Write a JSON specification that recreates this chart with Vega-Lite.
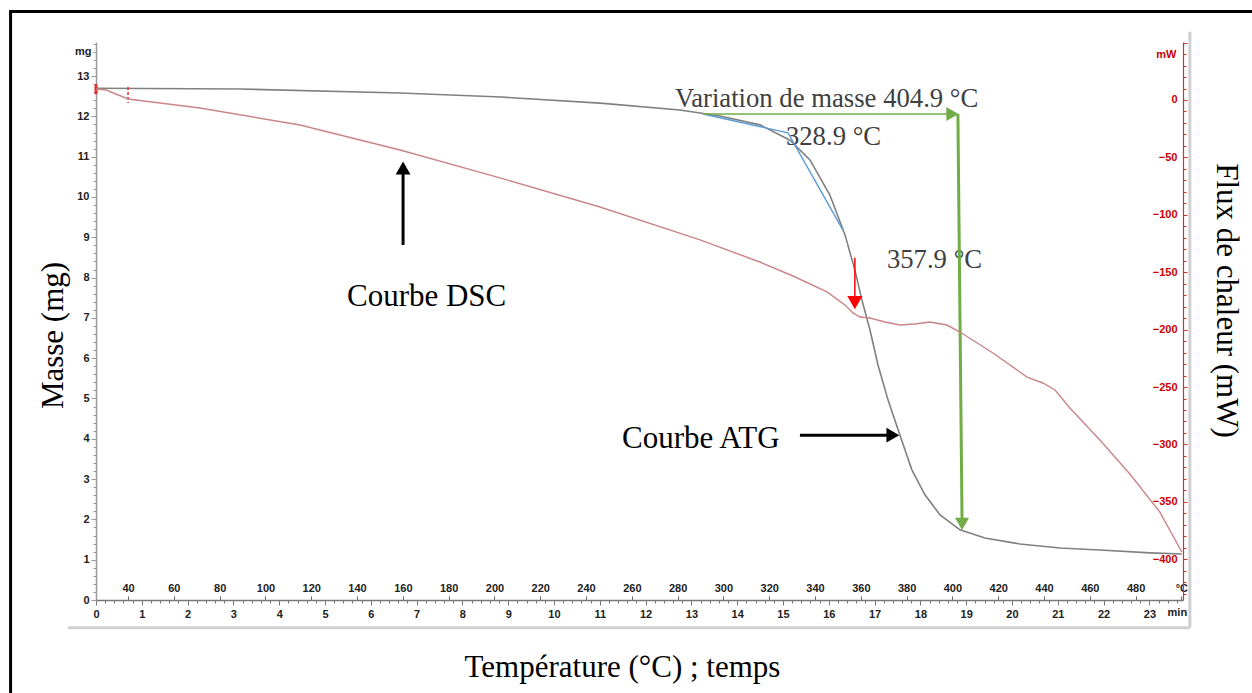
{
  "$schema": "https://vega.github.io/schema/vega-lite/v6.json",
  "width": 1087,
  "height": 558,
  "autosize": {"type": "none"},
  "padding": {"left": 96, "top": 42, "right": 69, "bottom": 93},
  "background": "#ffffff",
  "config": {
    "view": {"stroke": null},
    "axis": {
      "grid": false,
      "labelFont": "Liberation Sans Narrow, Liberation Sans, Arial",
      "labelFontWeight": "bold",
      "labelFontSize": 11,
      "labelColor": "#222222",
      "titleFont": "Liberation Serif",
      "titleFontWeight": "normal",
      "titleFontSize": 31,
      "titleColor": "#000000"
    }
  },
  "datasets": {
    "atg": [
      {"T": 26, "mg": 12.70}, {"T": 88.9, "mg": 12.68}, {"T": 158.8, "mg": 12.58}, {"T": 202.9, "mg": 12.48},
      {"T": 246.1, "mg": 12.33}, {"T": 281.0, "mg": 12.16}, {"T": 298.5, "mg": 12.01}, {"T": 316.0, "mg": 11.79},
      {"T": 329.1, "mg": 11.41}, {"T": 337.8, "mg": 10.92}, {"T": 346.5, "mg": 10.05}, {"T": 353.1, "mg": 9.06},
      {"T": 357.4, "mg": 8.19}, {"T": 360.5, "mg": 7.44}, {"T": 364.0, "mg": 6.70}, {"T": 367.5, "mg": 5.83},
      {"T": 371.9, "mg": 4.96}, {"T": 377.1, "mg": 4.09}, {"T": 382.3, "mg": 3.23}, {"T": 388.0, "mg": 2.61},
      {"T": 394.6, "mg": 2.11}, {"T": 403.3, "mg": 1.74}, {"T": 414.2, "mg": 1.54}, {"T": 429.5, "mg": 1.39},
      {"T": 447.0, "mg": 1.29}, {"T": 464.4, "mg": 1.24}, {"T": 486.3, "mg": 1.17}, {"T": 500.2, "mg": 1.14}
    ],
    "dsc": [
      {"T": 26, "mW": 9.6}, {"T": 30.4, "mW": 8.7}, {"T": 34.7, "mW": 5.2}, {"T": 40.0, "mW": 0.9},
      {"T": 71.4, "mW": -7.0}, {"T": 115.1, "mW": -21.8}, {"T": 158.8, "mW": -43.6}, {"T": 202.4, "mW": -67.9},
      {"T": 246.1, "mW": -93.2}, {"T": 289.8, "mW": -121.9}, {"T": 315.9, "mW": -141.1}, {"T": 330.4, "mW": -153.3},
      {"T": 345.2, "mW": -167.2}, {"T": 353.1, "mW": -178.6}, {"T": 356.6, "mW": -185.5}, {"T": 359.6, "mW": -189.0},
      {"T": 364.0, "mW": -189.9}, {"T": 370.5, "mW": -193.4}, {"T": 377.1, "mW": -196.0}, {"T": 383.6, "mW": -195.1},
      {"T": 390.2, "mW": -193.4}, {"T": 397.6, "mW": -196.0}, {"T": 403.3, "mW": -202.1}, {"T": 417.7, "mW": -220.4},
      {"T": 432.6, "mW": -241.3}, {"T": 439.5, "mW": -246.5}, {"T": 444.8, "mW": -252.6}, {"T": 451.3, "mW": -268.3},
      {"T": 464.4, "mW": -296.1}, {"T": 477.5, "mW": -325.8}, {"T": 490.6, "mW": -358.9}, {"T": 500.2, "mW": -393.7}
    ]
  },
  "resolve": {"scale": {"x": "independent", "y": "independent"}},
  "layer": [
    {
      "layer": [
        {
          "data": {"values": [{"T1": -11.3, "T2": 700, "m1": -3, "m2": 14.6}]},
          "mark": {"type": "rect", "filled": false, "stroke": "#000000", "strokeWidth": 3},
          "encoding": {
            "x": {"field": "T1", "type": "quantitative", "title": null},
            "x2": {"field": "T2"},
            "y": {"field": "m1", "type": "quantitative", "title": "Masse (mg)"},
            "y2": {"field": "m2"}
          }
        },
        {
          "data": {"values": [
            {"T1": 13.8, "m1": -0.69, "T2": 503.7, "m2": -0.69},
            {"T1": 503.7, "m1": -0.69, "T2": 503.7, "m2": 14.1}
          ]},
          "mark": {"type": "rule", "color": "#cfcfcf", "strokeWidth": 3},
          "encoding": {
            "x": {"field": "T1", "type": "quantitative", "title": null},
            "x2": {"field": "T2"},
            "y": {"field": "m1", "type": "quantitative", "title": "Masse (mg)"},
            "y2": {"field": "m2"}
          }
        },
        {
          "data": {"name": "atg"},
          "mark": {"type": "line", "color": "#808080", "strokeWidth": 1.6},
          "encoding": {
            "x": {
              "field": "T", "type": "quantitative", "title": null,
              "scale": {"domain": [26, 500.7], "nice": false, "zero": false},
              "axis": {
                "orient": "top", "offset": -558, "title": null, "tickCount": 1000,
                "values": [40, 60, 80, 100, 120, 140, 160, 180, 200, 220, 240, 260, 280, 300, 320, 340, 360, 380, 400, 420, 440, 460, 480, 500],
                "labelExpr": "datum.value === 500 ? '°C' : format(datum.value, 'd')",
                "domain": false, "tickSize": 4, "tickColor": "#666666", "labelPadding": 3, "labelFlush": false, "labelOverlap": false
              }
            },
            "y": {
              "field": "mg", "type": "quantitative", "title": "Masse (mg)",
              "scale": {"domain": [0, 13.846], "nice": false, "zero": false},
              "axis": {
                "orient": "left", "title": "Masse (mg)", "tickCount": 1000,
                "values": [0,0.2,0.4,0.6,0.8,1,1.2,1.4,1.6,1.8,2,2.2,2.4,2.6,2.8,3,3.2,3.4,3.6,3.8,4,4.2,4.4,4.6,4.8,5,5.2,5.4,5.6,5.8,6,6.2,6.4,6.6,6.8,7,7.2,7.4,7.6,7.8,8,8.2,8.4,8.6,8.8,9,9.2,9.4,9.6,9.8,10,10.2,10.4,10.6,10.8,11,11.2,11.4,11.6,11.8,12,12.2,12.4,12.6,12.8,13,13.2,13.4,13.6,13.8],
                "labelExpr": "datum.value === 13.6 ? 'mg' : (datum.value % 1 === 0 ? format(datum.value, 'd') : '')",
                "tickSize": {"condition": {"test": "datum.value % 1 === 0", "value": 5}, "value": 3},
                "domainColor": "#9a9a9a", "domainWidth": 1.5, "tickColor": "#9a9a9a",
                "labelPadding": 2, "labelFlush": false, "labelOverlap": false,
                "titlePadding": 5, "titleY": 293
              }
            }
          }
        },
        {
          "data": {"values": [
            {"T1": 26, "m1": 12.80, "T2": 26, "m2": 12.55}
          ]},
          "mark": {"type": "rule", "color": "#e03030", "strokeWidth": 3},
          "encoding": {
            "x": {"field": "T1", "type": "quantitative", "title": null},
            "x2": {"field": "T2"},
            "y": {"field": "m1", "type": "quantitative", "title": "Masse (mg)"},
            "y2": {"field": "m2"}
          }
        },
        {
          "data": {"values": [
            {"T1": 40, "m1": 12.73, "T2": 40, "m2": 12.33}
          ]},
          "mark": {"type": "rule", "color": "#e03030", "strokeWidth": 1.5, "strokeDash": [3, 2]},
          "encoding": {
            "x": {"field": "T1", "type": "quantitative", "title": null},
            "x2": {"field": "T2"},
            "y": {"field": "m1", "type": "quantitative", "title": "Masse (mg)"},
            "y2": {"field": "m2"}
          }
        },
        {
          "data": {"values": [
            {"label": "Variation de masse 404.9 °C", "T": 278.8, "mg": 12.23},
            {"label": "328.9 °C", "T": 327.3, "mg": 11.29},
            {"label": "357.9 °C", "T": 371.4, "mg": 8.24}
          ]},
          "mark": {"type": "text", "font": "Liberation Serif", "fontSize": 26.7, "color": "#404040", "align": "left", "baseline": "alphabetic"},
          "encoding": {
            "x": {"field": "T", "type": "quantitative", "title": null},
            "y": {"field": "mg", "type": "quantitative", "title": "Masse (mg)"},
            "text": {"field": "label"}
          }
        },
        {
          "data": {"values": [
            {"label": "Courbe DSC", "T": 135.6, "mg": 7.30},
            {"label": "Courbe ATG", "T": 255.7, "mg": 3.77}
          ]},
          "mark": {"type": "text", "font": "Liberation Serif", "fontSize": 31, "color": "#000000", "align": "left", "baseline": "alphabetic"},
          "encoding": {
            "x": {"field": "T", "type": "quantitative", "title": null},
            "y": {"field": "mg", "type": "quantitative", "title": "Masse (mg)"},
            "text": {"field": "label"}
          }
        },
        {
          "data": {"values": [
            {"T": 291.1, "mg": 12.06}, {"T": 328.2, "mg": 11.59}, {"T": 352.2, "mg": 9.18}
          ]},
          "mark": {"type": "line", "color": "#5b9bd5", "strokeWidth": 1.4},
          "encoding": {
            "x": {"field": "T", "type": "quantitative", "title": null},
            "y": {"field": "mg", "type": "quantitative", "title": "Masse (mg)"}
          }
        },
        {
          "data": {"values": [
            {"T1": 291.1, "m1": 12.06, "T2": 399.0, "m2": 12.06}
          ]},
          "mark": {"type": "rule", "color": "#70ad47", "strokeWidth": 1.6},
          "encoding": {
            "x": {"field": "T1", "type": "quantitative", "title": null},
            "x2": {"field": "T2"},
            "y": {"field": "m1", "type": "quantitative", "title": "Masse (mg)"},
            "y2": {"field": "m2"}
          }
        },
        {
          "data": {"values": [
            {"T1": 402.4, "m1": 12.06, "T2": 404.2, "m2": 1.99}
          ]},
          "mark": {"type": "rule", "color": "#70ad47", "strokeWidth": 3},
          "encoding": {
            "x": {"field": "T1", "type": "quantitative", "title": null},
            "x2": {"field": "T2"},
            "y": {"field": "m1", "type": "quantitative", "title": "Masse (mg)"},
            "y2": {"field": "m2"}
          }
        },
        {
          "data": {"values": [
            {"T1": 357.4, "m1": 8.49, "T2": 357.4, "m2": 7.5}
          ]},
          "mark": {"type": "rule", "color": "#ff0000", "strokeWidth": 1.5},
          "encoding": {
            "x": {"field": "T1", "type": "quantitative", "title": null},
            "x2": {"field": "T2"},
            "y": {"field": "m1", "type": "quantitative", "title": "Masse (mg)"},
            "y2": {"field": "m2"}
          }
        },
        {
          "data": {"values": [
            {"T1": 160.1, "m1": 8.81, "T2": 160.1, "m2": 10.6},
            {"T1": 333.4, "m1": 4.09, "T2": 372.0, "m2": 4.09}
          ]},
          "mark": {"type": "rule", "color": "#000000", "strokeWidth": 3},
          "encoding": {
            "x": {"field": "T1", "type": "quantitative", "title": null},
            "x2": {"field": "T2"},
            "y": {"field": "m1", "type": "quantitative", "title": "Masse (mg)"},
            "y2": {"field": "m2"}
          }
        },
        {
          "data": {"values": [{"T": 400.0, "mg": 12.06}]},
          "mark": {"type": "point", "shape": "triangle-right", "filled": true, "color": "#70ad47", "size": 200, "opacity": 1},
          "encoding": {
            "x": {"field": "T", "type": "quantitative", "title": null},
            "y": {"field": "mg", "type": "quantitative", "title": "Masse (mg)"}
          }
        },
        {
          "data": {"values": [{"T": 404.2, "mg": 1.89}]},
          "mark": {"type": "point", "shape": "triangle-down", "filled": true, "color": "#70ad47", "size": 200, "opacity": 1},
          "encoding": {
            "x": {"field": "T", "type": "quantitative", "title": null},
            "y": {"field": "mg", "type": "quantitative", "title": "Masse (mg)"}
          }
        },
        {
          "data": {"values": [{"T": 357.4, "mg": 7.38}]},
          "mark": {"type": "point", "shape": "triangle-down", "filled": true, "color": "#ff0000", "size": 230, "opacity": 1},
          "encoding": {
            "x": {"field": "T", "type": "quantitative", "title": null},
            "y": {"field": "mg", "type": "quantitative", "title": "Masse (mg)"}
          }
        },
        {
          "data": {"values": [{"T": 160.1, "mg": 10.72}]},
          "mark": {"type": "point", "shape": "triangle-up", "filled": true, "color": "#000000", "size": 220, "opacity": 1},
          "encoding": {
            "x": {"field": "T", "type": "quantitative", "title": null},
            "y": {"field": "mg", "type": "quantitative", "title": "Masse (mg)"}
          }
        },
        {
          "data": {"values": [{"T": 374.0, "mg": 4.09}]},
          "mark": {"type": "point", "shape": "triangle-right", "filled": true, "color": "#000000", "size": 220, "opacity": 1},
          "encoding": {
            "x": {"field": "T", "type": "quantitative", "title": null},
            "y": {"field": "mg", "type": "quantitative", "title": "Masse (mg)"}
          }
        }
      ]
    },
    {
      "data": {"name": "dsc"},
      "mark": {"type": "line", "color": "#c9858a", "strokeWidth": 1.4},
      "encoding": {
        "x": {
          "field": "T", "type": "quantitative",
          "scale": {"domain": [26, 500.7], "nice": false, "zero": false},
          "axis": null
        },
        "y": {
          "field": "mW", "type": "quantitative",
          "scale": {"domain": [-435.5, 50.5], "nice": false, "zero": false},
          "axis": {
            "orient": "right", "title": "Flux de chaleur (mW)", "titleAngle": 90, "tickCount": 1000,
            "values": [50,40,30,20,10,0,-10,-20,-30,-40,-50,-60,-70,-80,-90,-100,-110,-120,-130,-140,-150,-160,-170,-180,-190,-200,-210,-220,-230,-240,-250,-260,-270,-280,-290,-300,-310,-320,-330,-340,-350,-360,-370,-380,-390,-400,-410,-420,-430],
            "labelExpr": "datum.value === 40 ? 'mW' : ((datum.value % 50 === 0 && datum.value <= 0) ? format(datum.value, 'd') : '')",
            "tickSize": {"condition": {"test": "datum.value % 50 === 0", "value": 4}, "value": 3},
            "labelAlign": "right", "labelPadding": -10, "labelColor": "#cc0000",
            "labelFlush": false, "labelOverlap": false,
            "domainColor": "#cc3333", "domainWidth": 1.2, "tickColor": "#cc3333",
            "titlePadding": 22, "titleY": 258
          }
        }
      }
    },
    {
      "data": {"values": [{"t": 0}]},
      "mark": {"type": "point", "opacity": 0},
      "encoding": {
        "x": {
          "field": "t", "type": "quantitative",
          "scale": {"domain": [0, 23.734], "nice": false, "zero": false},
          "axis": {
            "orient": "bottom", "title": "Température (°C) ; temps", "tickCount": 1000,
            "values": [0,0.2,0.4,0.6,0.8,1,1.2,1.4,1.6,1.8,2,2.2,2.4,2.6,2.8,3,3.2,3.4,3.6,3.8,4,4.2,4.4,4.6,4.8,5,5.2,5.4,5.6,5.8,6,6.2,6.4,6.6,6.8,7,7.2,7.4,7.6,7.8,8,8.2,8.4,8.6,8.8,9,9.2,9.4,9.6,9.8,10,10.2,10.4,10.6,10.8,11,11.2,11.4,11.6,11.8,12,12.2,12.4,12.6,12.8,13,13.2,13.4,13.6,13.8,14,14.2,14.4,14.6,14.8,15,15.2,15.4,15.6,15.8,16,16.2,16.4,16.6,16.8,17,17.2,17.4,17.6,17.8,18,18.2,18.4,18.6,18.8,19,19.2,19.4,19.6,19.8,20,20.2,20.4,20.6,20.8,21,21.2,21.4,21.6,21.8,22,22.2,22.4,22.6,22.8,23,23.2,23.4,23.6],
            "labelExpr": "datum.value === 23.6 ? 'min' : (datum.value % 1 === 0 ? format(datum.value, 'd') : '')",
            "tickSize": {"condition": {"test": "datum.value % 1 === 0", "value": 5}, "value": 3},
            "domainColor": "#777777", "domainWidth": 1.5, "tickColor": "#777777",
            "labelPadding": 3, "labelFlush": false, "labelOverlap": false,
            "titlePadding": 33, "titleX": 526
          }
        },
        "y": {"datum": 0, "type": "quantitative", "scale": {"domain": [0, 1]}, "axis": null}
      }
    }
  ]
}
